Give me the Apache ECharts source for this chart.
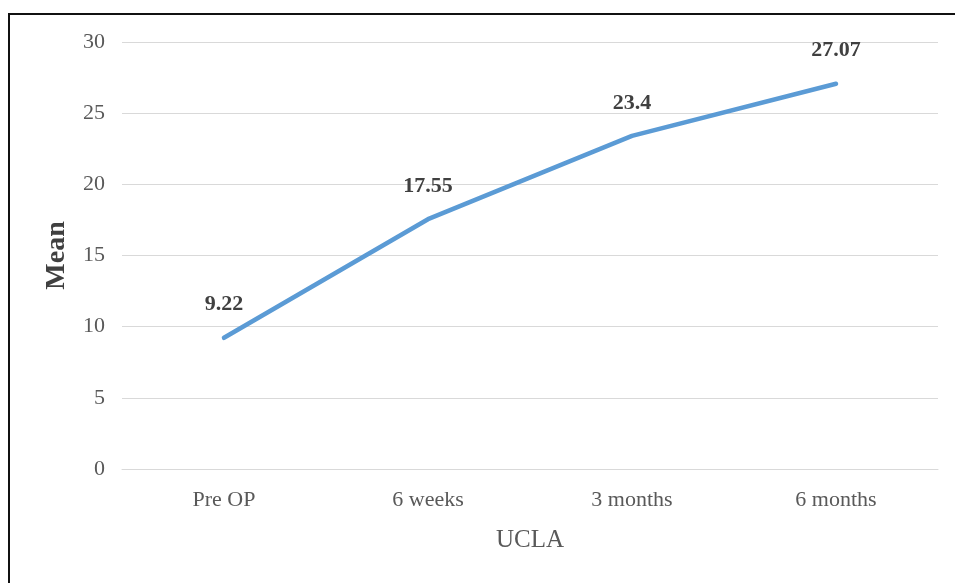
<!DOCTYPE html>
<html lang="en">
<head>
    <meta charset="UTF-8">
    <title>UCLA</title>
    <script src="https://cdn.jsdelivr.net/npm/echarts@6/dist/echarts.min.js"></script>
    <style>
        html, body { margin: 0; padding: 0; background: #fff; }
        #frame { position: absolute; left: 8px; top: 13px; width: 960px; height: 600px; border: 2px solid #111; box-sizing: border-box; }
        #main { position: absolute; left: 0; top: 0; width: 955px; height: 583px; }
    </style>
</head>
<body>
<div id="frame"></div>
<div id="main"></div>
<script>
    // 数据
    var categories = ['Pre OP', '6 weeks', '3 months', '6 months'];
    var meanValues = [9.22, 17.55, 23.4, 27.07];
    var labelTexts = ['9.22', '17.55', '23.4', '27.07'];

    var myChart = echarts.init(document.getElementById('main'));
    var serif = '"Liberation Serif", "DejaVu Serif", serif';

    var option = {
        backgroundColor: 'transparent',
        animation: false,
        grid: { left: 122, right: 17, top: 42, bottom: 114 },
        xAxis: {
            type: 'category',
            data: categories,
            boundaryGap: true,
            name: 'UCLA',
            nameLocation: 'middle',
            nameGap: 59,
            nameTextStyle: { fontFamily: serif, fontSize: 25, color: '#595959' },
            axisLine: { show: true, lineStyle: { color: '#d9d9d9', width: 1 } },
            axisTick: { show: false },
            axisLabel: { fontFamily: serif, fontSize: 22, color: '#595959', margin: 20 }
        },
        yAxis: {
            type: 'value',
            min: 0,
            max: 30,
            interval: 5,
            name: 'Mean',
            nameLocation: 'middle',
            nameGap: 51,
            nameRotate: 90,
            nameTextStyle: { fontFamily: serif, fontSize: 28, fontWeight: 'bold', color: '#404040' },
            axisLine: { show: false },
            axisTick: { show: false },
            axisLabel: { fontFamily: serif, fontSize: 22, color: '#595959', margin: 17 },
            splitLine: { lineStyle: { color: '#d9d9d9', width: 1 } }
        },
        series: [
            {
                type: 'line',
                data: meanValues,
                symbol: 'circle',
                symbolSize: 2,
                showSymbol: true,
                itemStyle: { color: 'rgba(91,155,213,0)' },
                lineStyle: { color: '#5b9bd5', width: 4.5, cap: 'round' },
                label: {
                    show: true,
                    opacity: 1,
                    position: 'top',
                    distance: 21,
                    fontFamily: serif,
                    fontSize: 22,
                    fontWeight: 'bold',
                    color: '#404040',
                    formatter: function (p) { return labelTexts[p.dataIndex]; }
                }
            }
        ]
    };
    myChart.setOption(option);
</script>
</body>
</html>
